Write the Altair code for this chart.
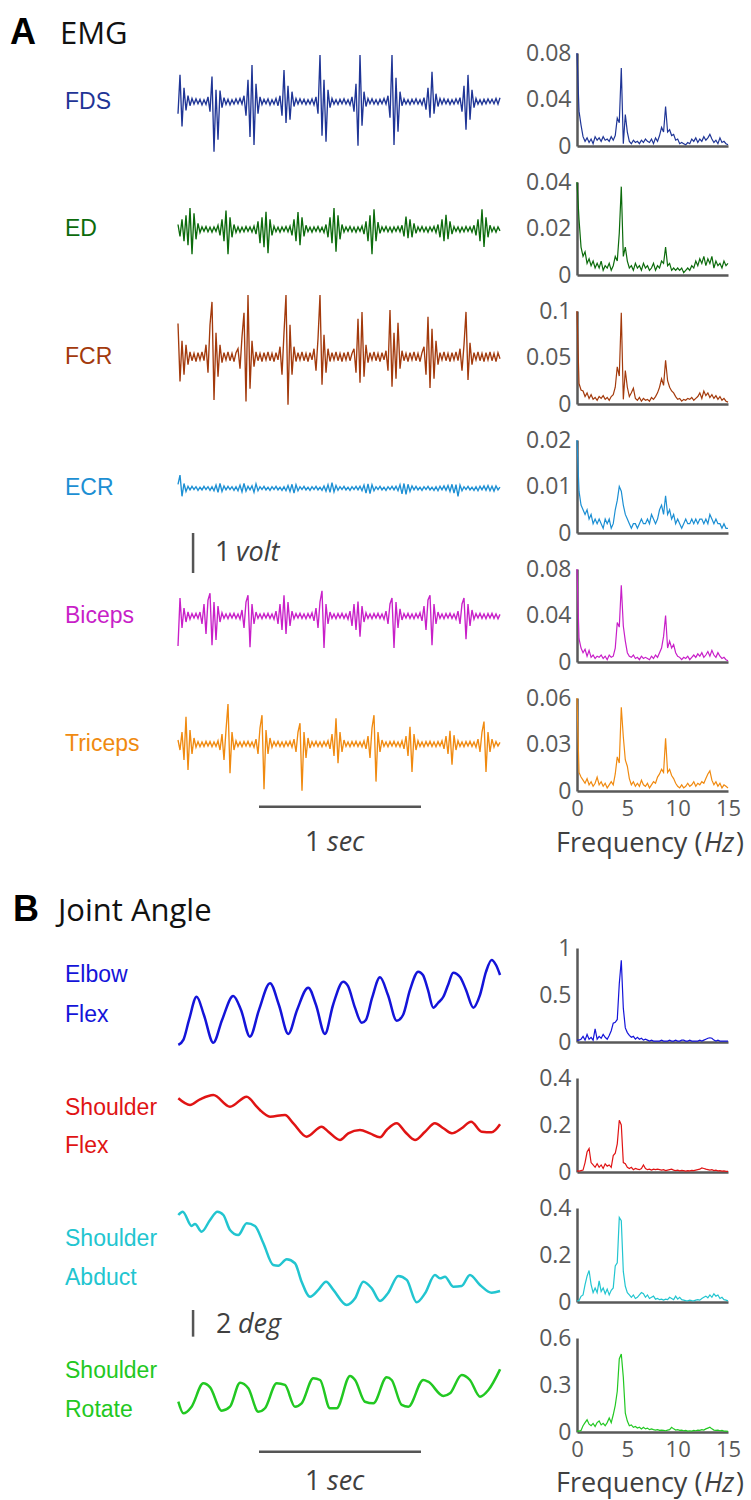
import altair as alt
import pandas as pd

# ------------------------------------------------------------------ data
EMG_NAMES = ["FDS", "ED", "FCR", "ECR", "Biceps", "Triceps"]
EMG_COLORS = ["#1f3596", "#0c6b0c", "#a33a0c", "#1c8fd3", "#c81fc8", "#f08a10"]
EMG_RATE = 81.0  # samples per second (2 s window)

FDS_EMG = [-0.30, 0.67, -0.62, 0.35, -0.22, 0.15, -0.10, 0.08,
           -0.06, 0.07, -0.05, 0.06, -0.08, 0.05, -0.07, 0.12,
           -0.25, 0.63, -1.25, 0.30, -0.95, 0.28, -0.15, 0.10,
           -0.07, 0.06, -0.08, 0.05, -0.06, 0.07, -0.05, 0.08,
           -0.06, 0.15, -0.35, 0.55, -0.88, 0.92, -1.08, 0.45, -0.30, 0.12,
           -0.07, 0.06, -0.05, 0.07, -0.08, 0.05, -0.06, 0.08, -0.10, 0.15,
           -0.35, 0.79, -0.53, 0.40, -0.45, 0.25, -0.12, 0.08,
           -0.06, 0.07, -0.05, 0.06, -0.07, 0.05, -0.06, 0.07, -0.08, 0.12,
           -0.30, 1.17, -0.85, 0.55, -1.00, 0.30, -0.15, 0.08,
           -0.06, 0.05, -0.07, 0.06, -0.05, 0.07, -0.06, 0.05, -0.08, 0.12,
           -0.25, 0.45, -1.10, 1.17, -0.60, 0.25, -0.12, 0.08,
           -0.05, 0.07, -0.06, 0.05, -0.07, 0.06, -0.05, 0.08, -0.06, 0.15,
           -0.40, 1.17, -1.08, 0.60, -0.75, 0.25, -0.10, 0.07,
           -0.06, 0.05, -0.07, 0.06, -0.05, 0.07, -0.06, 0.05, -0.08, 0.10,
           -0.20, 0.35, -0.40, 0.75, -0.30, 0.20, -0.12, 0.08,
           -0.06, 0.07, -0.05, 0.06, -0.07, 0.05, -0.06, 0.07, -0.05, 0.10,
           -0.25, 0.40, -0.70, 0.67, -0.45, 0.30, -0.15, 0.08,
           -0.06, 0.05, -0.07, 0.06, -0.05, 0.07, -0.04, 0.06, -0.05, 0.08, -0.06, 0.10]

ED_EMG = [0.12, -0.18, 0.25, -0.30, 0.35, -0.40, 0.53, -0.62, 0.40, -0.25, 0.15, -0.08,
          0.06, -0.05, 0.07, -0.06, 0.05, -0.07, 0.06, -0.05,
          0.10, -0.15, 0.25, -0.30, 0.47, -0.62, 0.30, -0.20, 0.12, -0.08,
          0.06, -0.07, 0.05, -0.06, 0.07, -0.05, 0.06, -0.07, 0.08,
          -0.12, 0.20, -0.35, 0.30, -0.45, 0.44, -0.60, 0.25, -0.15, 0.08,
          -0.06, 0.05, -0.07, 0.06, -0.05, 0.07, -0.06, 0.08,
          -0.15, 0.25, -0.30, 0.43, -0.40, 0.30, -0.18, 0.10, -0.06,
          0.05, -0.07, 0.06, -0.05, 0.07, -0.06, 0.05, -0.08, 0.12,
          -0.20, 0.30, -0.35, 0.53, -0.56, 0.35, -0.25, 0.12, -0.07, 0.06,
          -0.05, 0.07, -0.06, 0.05, -0.07, 0.06, -0.05, 0.08, -0.12,
          0.20, -0.30, 0.35, -0.62, 0.50, -0.30, 0.18, -0.10, 0.06, -0.05,
          0.07, -0.06, 0.05, -0.07, 0.06, -0.05, 0.07, -0.06, 0.10,
          -0.18, 0.32, -0.22, 0.25, -0.20, 0.15, -0.10, 0.06,
          -0.05, 0.07, -0.06, 0.05, -0.07, 0.06, -0.05, 0.07, -0.08, 0.12,
          -0.20, 0.25, -0.30, 0.36, -0.25, 0.20, -0.12, 0.07,
          -0.05, 0.06, -0.07, 0.05, -0.06, 0.07, -0.05, 0.06, -0.07, 0.10,
          -0.15, 0.25, -0.30, 0.50, -0.44, 0.30, -0.20, 0.10,
          -0.06, 0.05, -0.07, 0.06, -0.04]

FCR_EMG = [0.83, -0.62, 0.40, -0.45, 0.30, -0.20, 0.12, -0.10,
           0.08, -0.12, 0.10, -0.08, 0.12, -0.10,
           0.30, -0.40, 0.80, 1.37, -1.08, 0.60, -0.50, 0.30, -0.15,
           0.10, -0.08, 0.12, -0.10, 0.08, -0.12, 0.10, 0.20,
           -0.30, 0.50, 1.10, -1.12, 1.54, -0.80, 0.40, -0.25, 0.12,
           -0.10, 0.08, -0.12, 0.10, -0.08, 0.12, -0.10, 0.08, -0.12, 0.10, -0.08,
           0.25, -0.45, 0.60, 1.54, -1.20, 0.80, -0.45, 0.25, -0.12,
           0.10, -0.08, 0.12, -0.10, 0.08, -0.12, 0.10, -0.08,
           0.20, -0.35, 0.45, 1.54, -0.70, 0.55, -0.40, 0.20, -0.12,
           0.10, -0.08, 0.12, -0.10, 0.08, -0.12, 0.10, -0.08, 0.12, -0.10, 0.08,
           0.20, -0.40, 0.95, -0.65, 1.12, -0.50, 0.30, -0.15, 0.10,
           -0.08, 0.12, -0.10, 0.08, -0.12, 0.10, -0.08, 0.15,
           -0.35, 1.17, -0.75, 0.60, -0.55, 0.85, -0.30, 0.15, -0.10,
           0.08, -0.12, 0.10, -0.08, 0.12, -0.10, 0.08, -0.12, 0.10,
           0.25, -0.45, 1.00, -0.78, 0.70, -0.55, 0.40, -0.20, 0.10,
           -0.08, 0.12, -0.10, 0.08, -0.12, 0.10, -0.08, 0.12, -0.10,
           0.20, -0.35, 0.30, 1.12, -0.58, 0.35, -0.20, 0.10, -0.08,
           0.12, -0.10, 0.08, -0.12, 0.10, -0.08, 0.12, -0.10, 0.08, -0.12, 0.10, -0.05]

ECR_EMG = [0.10, 0.33, -0.20, 0.12, -0.08, 0.05,
           -0.04, 0.05, -0.03, 0.04, -0.05, 0.03, -0.04, 0.05, -0.03, 0.04, -0.05, 0.04, -0.06, 0.08,
           -0.10, 0.12, -0.08, 0.06,
           -0.04, 0.05, -0.03, 0.04, -0.05, 0.04, -0.06, 0.08,
           -0.09, 0.12, -0.07, 0.05,
           -0.04, 0.06, -0.10, 0.11, -0.06, 0.04,
           -0.03, 0.05, -0.04, 0.03, -0.05, 0.04, -0.03, 0.05, -0.04, 0.03, -0.05, 0.04, -0.06, 0.07,
           -0.08, 0.10, -0.12, 0.09, -0.06, 0.04,
           -0.03, 0.05, -0.04, 0.03, -0.05, 0.04, -0.03, 0.05, -0.04, 0.03, -0.05, 0.06,
           -0.07, 0.09, -0.10, 0.14, -0.09, 0.07, -0.05, 0.04,
           -0.03, 0.05, -0.04, 0.03, -0.05, 0.04, -0.03, 0.05, -0.04, 0.05, -0.06,
           0.08, -0.12, 0.11, -0.13, 0.09, -0.06, 0.04,
           -0.03, 0.05, -0.04, 0.03, -0.05, 0.04, -0.03, 0.05, -0.04, 0.05, -0.06,
           0.09, -0.14, 0.12, -0.15, 0.10, -0.08, 0.06, -0.04,
           0.05, -0.04, 0.03, -0.05, 0.04, -0.03, 0.05, -0.04, 0.03, -0.05, 0.04, -0.06, 0.05, -0.04, 0.06, -0.05, 0.07,
           -0.08, 0.10, -0.12, 0.09, -0.20, 0.08, -0.06, 0.04,
           -0.03, 0.05, -0.04, 0.03, -0.05, 0.04, -0.06, 0.05, -0.04, 0.06, -0.05, 0.07, -0.06, 0.05, -0.07, 0.06, -0.04, 0.03]

BICEPS_EMG = [-0.75, 0.45, -0.30, 0.20, -0.15, 0.10, -0.08, 0.06, -0.05, 0.07,
              -0.06, 0.10, -0.20, 0.30, -0.45, 0.40, 0.57, -0.73, 0.35, -0.60, 0.25, -0.15,
              0.08, -0.06, 0.05, -0.07, 0.06, -0.05, 0.07, -0.06, 0.05, -0.08,
              0.15, -0.30, 0.35, 0.52, -0.78, 0.30, -0.20, 0.10, -0.06,
              0.05, -0.07, 0.06, -0.05, 0.07, -0.06, 0.05, -0.08, 0.12,
              -0.20, 0.30, -0.35, 0.52, -0.45, 0.35, -0.25, 0.12, -0.07,
              0.06, -0.05, 0.07, -0.06, 0.05, -0.07, 0.06, -0.05, 0.08, -0.12,
              0.20, -0.30, 0.35, 0.63, -0.80, 0.30, -0.20, 0.10, -0.06,
              0.05, -0.07, 0.06, -0.05, 0.07, -0.06, 0.05, -0.08, 0.12,
              -0.25, 0.30, -0.35, 0.36, -0.52, 0.25, -0.15, 0.08, -0.06,
              0.05, -0.07, 0.06, -0.05, 0.07, -0.06, 0.05, -0.08, 0.12,
              -0.20, 0.30, 0.45, -0.80, 0.35, -0.30, 0.18, -0.10, 0.06,
              -0.05, 0.07, -0.06, 0.05, -0.07, 0.06, -0.05, 0.08, -0.12,
              0.25, -0.35, 0.40, 0.52, -0.73, 0.30, -0.20, 0.10, -0.06,
              0.05, -0.07, 0.06, -0.05, 0.07, -0.06, 0.05, -0.08, 0.12,
              -0.20, 0.30, 0.45, -0.58, 0.30, -0.25, 0.15, -0.08, 0.06,
              -0.05, 0.07, -0.06, 0.05, -0.07, 0.06, -0.05, 0.07, -0.06, 0.05, -0.07, 0.04]

TRICEPS_EMG = [0.10, -0.15, 0.30, -0.40, 0.68, -0.65, 0.35, -0.25, 0.15, -0.08,
               0.06, -0.07, 0.05, -0.06, 0.07, -0.05, 0.06, -0.07, 0.05, -0.06, 0.08,
               -0.15, 0.25, -0.40, 0.35, 1.00, -0.73, 0.30, -0.15, 0.08,
               -0.06, 0.05, -0.07, 0.06, -0.05, 0.07, -0.06, 0.05, -0.08, 0.12,
               -0.25, 0.40, 0.72, -1.13, 0.35, -0.25, 0.15, -0.08,
               0.06, -0.05, 0.07, -0.06, 0.05, -0.07, 0.06, -0.05, 0.07, -0.08, 0.12,
               -0.20, 0.30, 0.52, -1.17, 0.30, -0.35, 0.15, -0.10, 0.06,
               -0.05, 0.07, -0.06, 0.05, -0.07, 0.06, -0.05, 0.08, -0.12,
               0.25, -0.30, 0.64, -0.48, 0.30, -0.20, 0.10, -0.06,
               0.05, -0.07, 0.06, -0.05, 0.07, -0.06, 0.05, -0.07, 0.08, -0.12,
               0.20, -0.35, 0.40, 0.72, -0.94, 0.30, -0.20, 0.10, -0.06,
               0.05, -0.07, 0.06, -0.05, 0.07, -0.06, 0.05, -0.07, 0.08, -0.12,
               0.20, -0.30, 0.43, -0.70, 0.25, -0.15, 0.08, -0.06,
               0.05, -0.07, 0.06, -0.05, 0.07, -0.06, 0.05, -0.07, 0.06, -0.05, 0.08, -0.12,
               0.20, -0.25, 0.33, -0.52, 0.22, -0.15, 0.08, -0.06,
               0.05, -0.07, 0.06, -0.05, 0.07, -0.06, 0.05, -0.08, 0.12,
               -0.20, 0.30, 0.56, -0.70, 0.30, -0.20, 0.12, -0.08,
               0.06, -0.05, 0.04]

SPEC_STEP = 0.2  # Hz between spectrum samples (0 .. 15 Hz)

FDS_SPEC = [0.080, 0.030, 0.018, 0.008, 0.004, 0.007, 0.003, 0.006, 0.002, 0.008,
            0.005, 0.007, 0.004, 0.008, 0.005, 0.006, 0.004, 0.008, 0.005, 0.009,
            0.024, 0.020, 0.067, 0.002, 0.027, 0.012, 0.004, 0.002, 0.005, 0.003,
            0.004, 0.002, 0.005, 0.003, 0.006, 0.004, 0.003, 0.006, 0.002, 0.007,
            0.004, 0.009, 0.016, 0.012, 0.034, 0.012, 0.014, 0.009, 0.010, 0.005,
            0.006, 0.002, 0.003, 0.002, 0.001, 0.003, 0.002, 0.006, 0.004, 0.007,
            0.003, 0.006, 0.004, 0.008, 0.005, 0.007, 0.010, 0.006, 0.003, 0.005,
            0.002, 0.007, 0.003, 0.004, 0.002, 0.001]
ED_SPEC = [0.040, 0.024, 0.012, 0.008, 0.010, 0.005, 0.007, 0.004, 0.006, 0.003,
           0.005, 0.003, 0.006, 0.002, 0.004, 0.003, 0.005, 0.002, 0.004, 0.008,
           0.006, 0.018, 0.038, 0.008, 0.012, 0.006, 0.003, 0.004, 0.002, 0.005,
           0.003, 0.004, 0.002, 0.005, 0.003, 0.004, 0.002, 0.003, 0.005, 0.002,
           0.004, 0.003, 0.006, 0.005, 0.012, 0.004, 0.005, 0.002, 0.003, 0.002,
           0.003, 0.002, 0.003, 0.001, 0.002, 0.003, 0.002, 0.004, 0.003, 0.006,
           0.004, 0.007, 0.005, 0.008, 0.004, 0.007, 0.005, 0.008, 0.003, 0.006,
           0.004, 0.005, 0.003, 0.006, 0.004, 0.005]
FCR_SPEC = [0.100, 0.022, 0.015, 0.014, 0.008, 0.012, 0.006, 0.010, 0.005, 0.007,
            0.004, 0.008, 0.006, 0.009, 0.005, 0.007, 0.004, 0.008, 0.010, 0.018,
            0.040, 0.030, 0.098, 0.005, 0.036, 0.018, 0.008, 0.012, 0.017, 0.006,
            0.004, 0.007, 0.003, 0.006, 0.004, 0.005, 0.003, 0.007, 0.005, 0.008,
            0.012, 0.018, 0.027, 0.020, 0.047, 0.025, 0.018, 0.014, 0.012, 0.008,
            0.005, 0.006, 0.003, 0.005, 0.004, 0.006, 0.005, 0.007, 0.004, 0.006,
            0.008, 0.012, 0.006, 0.014, 0.009, 0.012, 0.007, 0.010, 0.006, 0.009,
            0.005, 0.008, 0.004, 0.006, 0.003, 0.002]
ECR_SPEC = [0.020, 0.009, 0.006, 0.005, 0.004, 0.005, 0.003, 0.004, 0.002, 0.003,
            0.002, 0.003, 0.002, 0.001, 0.003, 0.002, 0.003, 0.001, 0.002, 0.005,
            0.007, 0.010, 0.009, 0.006, 0.004, 0.003, 0.002, 0.001, 0.002, 0.002,
            0.001, 0.002, 0.003, 0.002, 0.002, 0.003, 0.002, 0.004, 0.003, 0.002,
            0.003, 0.005, 0.006, 0.004, 0.008, 0.004, 0.005, 0.003, 0.004, 0.002,
            0.003, 0.002, 0.001, 0.002, 0.003, 0.002, 0.002, 0.003, 0.002, 0.003,
            0.002, 0.003, 0.003, 0.002, 0.003, 0.002, 0.004, 0.003, 0.002, 0.003,
            0.002, 0.002, 0.001, 0.002, 0.001, 0.001]
BICEPS_SPEC = [0.080, 0.020, 0.012, 0.008, 0.011, 0.005, 0.010, 0.004, 0.006, 0.003,
               0.005, 0.004, 0.006, 0.003, 0.005, 0.002, 0.006, 0.004, 0.005, 0.012,
               0.034, 0.030, 0.066, 0.031, 0.018, 0.008, 0.005, 0.004, 0.006, 0.003,
               0.004, 0.002, 0.005, 0.003, 0.004, 0.003, 0.002, 0.005, 0.003, 0.006,
               0.004, 0.008, 0.012, 0.022, 0.040, 0.012, 0.018, 0.012, 0.015, 0.008,
               0.005, 0.004, 0.002, 0.004, 0.003, 0.005, 0.002, 0.004, 0.006, 0.004,
               0.007, 0.005, 0.008, 0.004, 0.006, 0.009, 0.005, 0.010, 0.006, 0.004,
               0.008, 0.005, 0.003, 0.004, 0.002, 0.001]
TRICEPS_SPEC = [0.060, 0.012, 0.009, 0.007, 0.005, 0.008, 0.004, 0.006, 0.003, 0.005,
                0.009, 0.004, 0.006, 0.003, 0.005, 0.002, 0.004, 0.006, 0.004, 0.011,
                0.022, 0.018, 0.054, 0.035, 0.020, 0.016, 0.008, 0.004, 0.006, 0.003,
                0.005, 0.003, 0.007, 0.004, 0.003, 0.005, 0.002, 0.004, 0.006, 0.005,
                0.009, 0.011, 0.014, 0.012, 0.034, 0.012, 0.014, 0.010, 0.008, 0.005,
                0.003, 0.002, 0.004, 0.002, 0.003, 0.005, 0.003, 0.004, 0.006, 0.003,
                0.005, 0.004, 0.006, 0.005, 0.008, 0.011, 0.013, 0.007, 0.004, 0.006,
                0.003, 0.005, 0.002, 0.004, 0.003, 0.002]
EMG_SPEC_MAX = [0.08, 0.04, 0.1, 0.02, 0.08, 0.06]

JOINT_NAMES = [["Elbow", "Flex"], ["Shoulder", "Flex"], ["Shoulder", "Abduct"], ["Shoulder", "Rotate"]]
JOINT_COLORS = ["#1414d9", "#e01414", "#22c5d0", "#22c822"]

ELBOW_T = [0.002, 0.033, 0.068, 0.115, 0.160, 0.218, 0.272, 0.341, 0.389, 0.444, 0.500, 0.568,
           0.623, 0.681, 0.735, 0.804, 0.852, 0.907, 0.957, 1.020, 1.049, 1.093, 1.134, 1.160,
           1.198, 1.247, 1.296, 1.350, 1.389, 1.432, 1.483, 1.512, 1.543, 1.576, 1.605, 1.638,
           1.667, 1.699, 1.741, 1.778, 1.823, 1.864, 1.901, 1.936, 1.963, 1.988]
ELBOW_DEG = [-0.30, 0.08, 1.58, 3.32, 1.95, -0.13, 1.58, 3.38, 2.33, 0.32, 2.33, 4.33,
             2.70, 0.53, 2.33, 4.00, 2.70, 0.53, 2.70, 4.45, 4.13, 2.48, 1.37, 1.58,
             3.23, 4.78, 3.45, 1.52, 1.95, 3.83, 5.20, 4.95, 3.83, 2.50, 2.85, 3.32,
             4.20, 5.12, 4.80, 3.83, 2.50, 3.45, 5.18, 6.08, 5.70, 4.95]
SFLEX_T = [0.002, 0.074, 0.136, 0.218, 0.321, 0.424, 0.486, 0.506, 0.568, 0.660,
           0.712, 0.794, 0.887, 0.928, 1.000, 1.051, 1.123, 1.185, 1.247, 1.288,
           1.350, 1.401, 1.463, 1.525, 1.586, 1.638, 1.690, 1.751, 1.809, 1.875,
           1.936, 1.988]
SFLEX_DEG = [5.53, 5.03, 5.45, 5.78, 4.90, 5.65, 4.90, 4.65, 4.15, 4.28,
             3.65, 2.65, 3.40, 3.02, 2.40, 2.90, 3.15, 2.90, 2.60, 3.15,
             3.65, 3.02, 2.40, 3.02, 3.65, 3.28, 2.90, 3.28, 3.77, 3.02,
             2.98, 3.58]
ABD_T = [0.002, 0.029, 0.084, 0.105, 0.146, 0.198, 0.243, 0.280, 0.321, 0.372,
         0.424, 0.475, 0.527, 0.588, 0.619, 0.671, 0.722, 0.763, 0.815, 0.866,
         0.914, 0.959, 1.041, 1.093, 1.144, 1.196, 1.247, 1.298, 1.360, 1.412,
         1.473, 1.525, 1.586, 1.617, 1.648, 1.699, 1.751, 1.802, 1.864, 1.936, 1.988]
ABD_DEG = [6.60, 6.85, 5.78, 5.93, 5.35, 6.23, 6.85, 6.60, 5.48, 5.10,
           5.98, 5.78, 4.48, 2.85, 2.80, 3.28, 2.98, 1.60, 0.47, 0.98,
           1.60, 0.98, -0.15, 0.35, 1.60, 1.10, 0.15, 0.77, 2.03, 1.73,
           0.05, 0.73, 2.10, 1.85, 1.97, 1.22, 1.28, 2.10, 1.35, 0.77, 0.90]
ROT_T = [0.002, 0.033, 0.084, 0.156, 0.198, 0.270, 0.321, 0.383, 0.434, 0.496,
         0.537, 0.609, 0.660, 0.722, 0.763, 0.835, 0.877, 0.938, 0.979, 1.062,
         1.093, 1.154, 1.206, 1.288, 1.319, 1.381, 1.422, 1.514, 1.545, 1.638,
         1.679, 1.751, 1.802, 1.864, 1.916, 1.988]
ROT_DEG = [2.42, 1.55, 2.05, 3.80, 3.50, 1.75, 2.05, 3.85, 3.43, 1.67,
           1.93, 3.80, 3.68, 2.05, 2.30, 4.18, 4.05, 1.93, 1.93, 4.35,
           4.05, 2.42, 2.30, 4.25, 4.05, 2.18, 2.05, 4.05, 3.92, 2.85,
           3.05, 4.43, 4.05, 2.80, 3.30, 4.85]

ELBOW_SPEC = [0.02, 0.02, 0.03, 0.06, 0.02, 0.08, 0.03, 0.05, 0.02, 0.14,
              0.03, 0.06, 0.04, 0.08, 0.05, 0.03, 0.07, 0.12, 0.20, 0.21,
              0.24, 0.62, 0.87, 0.36, 0.15, 0.10, 0.07, 0.05, 0.06, 0.03,
              0.05, 0.03, 0.04, 0.02, 0.03, 0.02, 0.01, 0.02, 0.01, 0.01,
              0.01, 0.01, 0.02, 0.01, 0.01, 0.01, 0.02, 0.01, 0.01, 0.02,
              0.01, 0.01, 0.02, 0.02, 0.01, 0.01, 0.02, 0.01, 0.01, 0.01,
              0.01, 0.02, 0.01, 0.02, 0.03, 0.04, 0.045, 0.04, 0.02, 0.01,
              0.02, 0.01, 0.01, 0.01, 0.01, 0.01]
SFLEX_SPEC = [0.005, 0.004, 0.006, 0.008, 0.040, 0.085, 0.100, 0.040, 0.030, 0.020,
              0.035, 0.020, 0.030, 0.015, 0.035, 0.025, 0.030, 0.020, 0.070, 0.080,
              0.120, 0.220, 0.200, 0.040, 0.035, 0.020, 0.015, 0.020, 0.010, 0.015,
              0.012, 0.010, 0.015, 0.030, 0.015, 0.010, 0.012, 0.008, 0.012, 0.010,
              0.012, 0.010, 0.008, 0.010, 0.006, 0.008, 0.010, 0.012, 0.008, 0.006,
              0.008, 0.005, 0.007, 0.006, 0.004, 0.006, 0.005, 0.007, 0.006, 0.008,
              0.010, 0.012, 0.017, 0.015, 0.012, 0.010, 0.008, 0.010, 0.006, 0.008,
              0.005, 0.006, 0.004, 0.005, 0.003, 0.003]
ABD_SPEC = [0.005, 0.006, 0.024, 0.030, 0.074, 0.110, 0.134, 0.074, 0.040, 0.060,
            0.040, 0.090, 0.045, 0.060, 0.035, 0.055, 0.030, 0.050, 0.060, 0.153,
            0.167, 0.360, 0.346, 0.130, 0.067, 0.040, 0.030, 0.020, 0.030, 0.015,
            0.020, 0.030, 0.040, 0.035, 0.020, 0.030, 0.015, 0.020, 0.025, 0.012,
            0.015, 0.010, 0.012, 0.008, 0.012, 0.010, 0.020, 0.015, 0.010, 0.025,
            0.012, 0.020, 0.010, 0.008, 0.006, 0.005, 0.008, 0.006, 0.005, 0.008,
            0.010, 0.008, 0.015, 0.020, 0.025, 0.018, 0.030, 0.020, 0.035, 0.025,
            0.030, 0.015, 0.020, 0.010, 0.008, 0.005]
ROT_SPEC = [0.005, 0.006, 0.010, 0.040, 0.060, 0.078, 0.050, 0.040, 0.055, 0.035,
            0.060, 0.070, 0.045, 0.055, 0.040, 0.060, 0.089, 0.060, 0.110, 0.170,
            0.260, 0.466, 0.498, 0.350, 0.120, 0.070, 0.040, 0.045, 0.030, 0.035,
            0.025, 0.030, 0.020, 0.030, 0.020, 0.025, 0.015, 0.020, 0.015, 0.012,
            0.015, 0.010, 0.012, 0.010, 0.008, 0.012, 0.015, 0.030, 0.020, 0.012,
            0.015, 0.010, 0.012, 0.008, 0.010, 0.006, 0.008, 0.006, 0.010, 0.008,
            0.012, 0.010, 0.015, 0.012, 0.020, 0.025, 0.030, 0.020, 0.012, 0.010,
            0.012, 0.008, 0.010, 0.006, 0.005, 0.004]
JOINT_SPEC_MAX = [1, 0.4, 0.4, 0.6]

VOLT_BAR = 1.0   # volts
DEG_BAR = 2.0    # degrees
SEC_BAR = 1.0    # seconds

EMG_TRACES = [FDS_EMG, ED_EMG, FCR_EMG, ECR_EMG, BICEPS_EMG, TRICEPS_EMG]
EMG_SPECS = [FDS_SPEC, ED_SPEC, FCR_SPEC, ECR_SPEC, BICEPS_SPEC, TRICEPS_SPEC]
JOINT_T = [ELBOW_T, SFLEX_T, ABD_T, ROT_T]
JOINT_DEG = [ELBOW_DEG, SFLEX_DEG, ABD_DEG, ROT_DEG]
JOINT_SPECS = [ELBOW_SPEC, SFLEX_SPEC, ABD_SPEC, ROT_SPEC]

# ------------------------------------------------------------------ layout / style
SPEC_W = 151
H_A = 93
H_B = 94
SPACE = 36
SPACER_H = 85
TR_RANGE = [-399, -75]      # trace time axis, relative to the spectrum panel
VOLT_PX = 40.0
DEG_PX = 13.33
EMG_TOP = [1.2175, 1.1825, 1.1425, 1.2075, 1.175, 1.15]   # volts at panel top
JOINT_TOP = [6.975, 7.05, 7.125, 7.2]                     # degrees at panel top
LABEL_X = -512
GRAY = "#595959"
DARK = "#404040"
SANS = "Liberation Sans"
OPEN = "Open Sans"

ONE = pd.DataFrame({"k": [0]})


def txt(s, x, y, size, color, font=SANS, italic=False, bold=False,
        align="left", baseline="middle"):
    return alt.Chart(ONE).mark_text(
        text=s, font=font, fontSize=size, color=color,
        fontStyle="italic" if italic else "normal",
        fontWeight="bold" if bold else "normal",
        align=align, baseline=baseline,
    ).encode(x=alt.value(x), y=alt.value(y))


def anchor(x, y):
    # invisible point that fixes the extent of the drawing
    return alt.Chart(ONE).mark_rule(opacity=0).encode(
        x=alt.value(x), x2=alt.value(x), y=alt.value(y), y2=alt.value(y))


def tscale():
    return alt.Scale(domain=[0, 2], range=TR_RANGE, nice=False, zero=False)


def vscale(dom, H):
    return alt.Scale(domain=dom, range=[H, 0], nice=False, zero=False)


def trace_layer(t, v, dom, H, color, width, interp="linear"):
    df = pd.DataFrame({"t": t, "v": v})
    return alt.Chart(df).mark_line(color=color, strokeWidth=width, interpolate=interp).encode(
        x=alt.X("t:Q", scale=tscale(), axis=None),
        y=alt.Y("v:Q", scale=vscale(dom, H), axis=None),
    )


def spec_layer(vals, pmax, color, bottom):
    df = pd.DataFrame({"f": [i * SPEC_STEP for i in range(len(vals))], "p": vals})
    return alt.Chart(df).mark_line(color=color, strokeWidth=1.2).encode(
        x=alt.X("f:Q", scale=alt.Scale(domain=[0, 15], nice=False, zero=False),
                axis=alt.Axis(values=[0, 5, 10, 15], labels=bottom, title=None,
                              labelPadding=7, labelFlush=False, labelFontSize=22)),
        y=alt.Y("p:Q", scale=alt.Scale(domain=[0, pmax], nice=False),
                axis=alt.Axis(values=[0, pmax / 2, pmax], format="~g", title=None,
                              labelPadding=6, labelFlush=False)),
    )


def vbar(t, v0, v1, dom, H):
    df = pd.DataFrame({"t": [t], "v0": [v0], "v1": [v1]})
    return alt.Chart(df).mark_rule(color="#555555", strokeWidth=2.5).encode(
        x=alt.X("t:Q", scale=tscale(), axis=None),
        y=alt.Y("v0:Q", scale=vscale(dom, H), axis=None),
        y2="v1:Q",
    )


def hbar(t0, t1, v, dom, H):
    df = pd.DataFrame({"t0": [t0], "t1": [t1], "v": [v]})
    return alt.Chart(df).mark_rule(color="#555555", strokeWidth=2.5).encode(
        x=alt.X("t0:Q", scale=tscale(), axis=None),
        x2="t1:Q",
        y=alt.Y("v:Q", scale=vscale(dom, H), axis=None),
    )


def sec_text(y):
    return [txt("1", -272, y, 27, DARK, font=OPEN),
            txt("sec", -250, y, 27, DARK, font=OPEN, italic=True)]


def freq_text(y):
    return [txt("Frequency (", -21, y, 27, DARK, font=OPEN, baseline="alphabetic"),
            txt("Hz", 127, y, 27, DARK, font=OPEN, italic=True, baseline="alphabetic"),
            txt(")", 159, y, 27, DARK, font=OPEN, baseline="alphabetic")]


rows = []
for k in range(6):
    col = EMG_COLORS[k]
    vals = EMG_TRACES[k]
    hi = EMG_TOP[k]
    dom = [hi - H_A / VOLT_PX, hi]
    t = [i / EMG_RATE for i in range(len(vals))]
    layers = [
        trace_layer(t, vals, dom, H_A, col, 1.35),
        spec_layer(EMG_SPECS[k], EMG_SPEC_MAX[k], col, bottom=(k == 5)),
        txt(EMG_NAMES[k], LABEL_X, hi * VOLT_PX, 23, col),
    ]
    if k == 0:
        layers += [anchor(-577, -53),
                   txt("A", -567, -9, 36, "#000000", bold=True, baseline="alphabetic"),
                   txt("EMG", -517, -9, 31, "#111111", font=OPEN, baseline="alphabetic")]
    if k == 3:
        v0 = hi - H_A / VOLT_PX
        layers += [vbar(0.093, v0, v0 - VOLT_BAR, dom, H_A),
                   txt("1", -362, 113, 27, DARK, font=OPEN),
                   txt("volt", -341, 113, 27, DARK, font=OPEN, italic=True)]
    if k == 5:
        layers += [hbar(0.5, 0.5 + SEC_BAR, hi - 108.7 / VOLT_PX, dom, H_A)]
        layers += sec_text(H_A + 52) + freq_text(H_A + 61)
    row = alt.layer(*layers).resolve_scale(x="independent", y="independent").properties(
        width=SPEC_W, height=H_A)
    rows.append(row)

spacer = alt.layer(
    txt("B", -564, 94, 36, "#000000", bold=True, baseline="alphabetic"),
    txt("Joint Angle", -519, 94, 31, "#111111", font=OPEN, baseline="alphabetic"),
).properties(width=SPEC_W, height=SPACER_H)
rows.append(spacer)

LABEL_Y = [(27, 67), (30, 68), (31, 70), (33, 72)]
for j in range(4):
    col = JOINT_COLORS[j]
    hi = JOINT_TOP[j]
    dom = [hi - H_B / DEG_PX, hi]
    layers = [
        trace_layer(JOINT_T[j], JOINT_DEG[j], dom, H_B, col, 2.5, interp="monotone"),
        spec_layer(JOINT_SPECS[j], JOINT_SPEC_MAX[j], col, bottom=(j == 3)),
        txt(JOINT_NAMES[j][0], LABEL_X, LABEL_Y[j][0], 23, col),
        txt(JOINT_NAMES[j][1], LABEL_X, LABEL_Y[j][1], 23, col),
    ]
    if j == 2:
        v0 = hi - (H_B + 8) / DEG_PX
        layers += [vbar(0.093, v0, v0 - DEG_BAR, dom, H_B),
                   txt("2", -361, 117, 27, DARK, font=OPEN),
                   txt("deg", -339, 117, 27, DARK, font=OPEN, italic=True)]
    if j == 3:
        layers += [hbar(0.5, 0.5 + SEC_BAR, hi - 113.7 / DEG_PX, dom, H_B)]
        layers += sec_text(H_B + 50) + freq_text(H_B + 60)
        layers += [anchor(174, 162)]
    row = alt.layer(*layers).resolve_scale(x="independent", y="independent").properties(
        width=SPEC_W, height=H_B)
    rows.append(row)

chart = alt.vconcat(*rows, spacing=SPACE, bounds="flush").properties(
    padding=0, background="white"
).configure_view(stroke=None).configure_axis(
    domainColor=GRAY, domainWidth=2.5, labelColor=GRAY, labelFont=OPEN,
    labelFontSize=23, ticks=False, tickSize=0, grid=False, labelOverlap=False,
)

chart.save("out.html", embed_options={"renderer": "svg", "actions": False})
